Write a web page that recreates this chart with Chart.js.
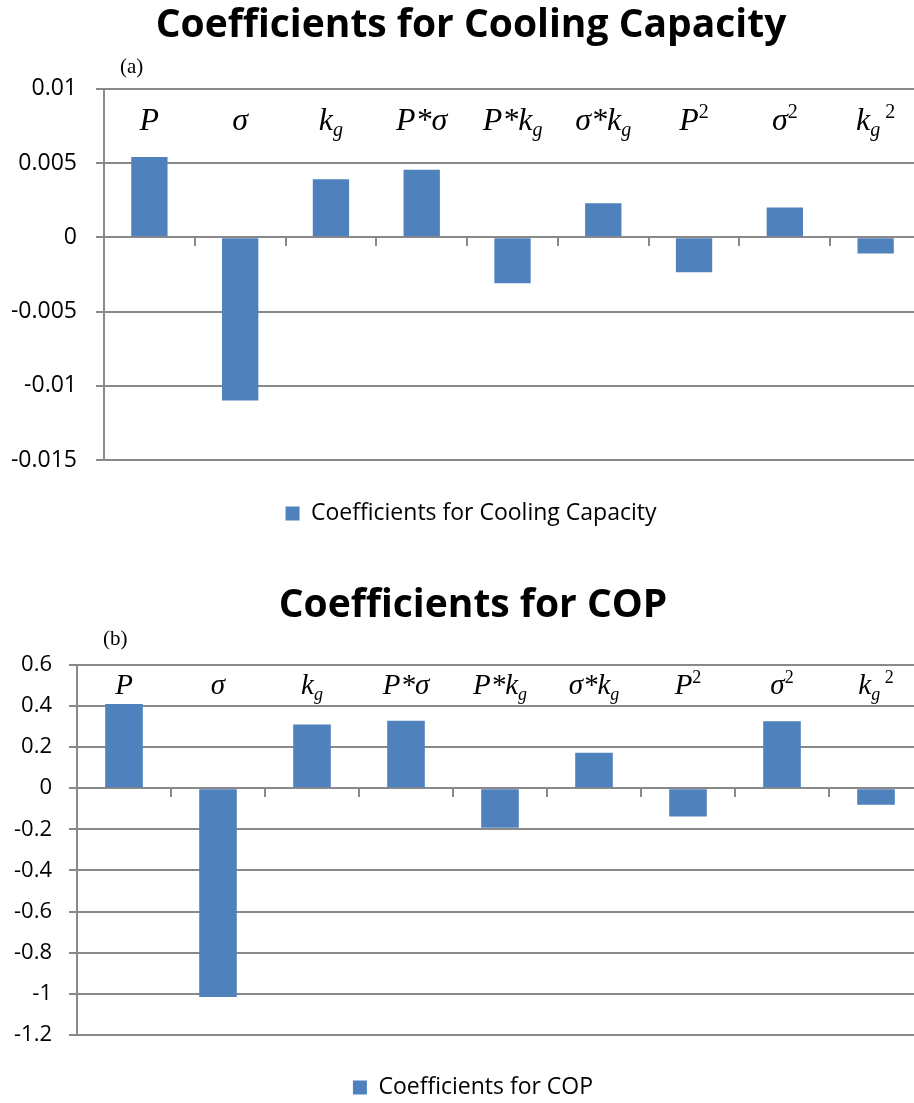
<!DOCTYPE html>
<html>
<head>
<meta charset="utf-8">
<script src="https://cdn.jsdelivr.net/npm/chart.js@4.4.1/dist/chart.umd.min.js"></script>
<style>
  html, body { margin: 0; padding: 0; background: #fff; }
  #page { width: 914px; height: 1103px; overflow: hidden; }
  canvas { display: block; }
</style>
</head>
<body>
<div id="page">
  <canvas id="chartCooling" width="980" height="552"></canvas>
  <canvas id="chartCop" width="980" height="560"></canvas>
</div>
<script>
// regression terms (plain text, used as the category labels)
const categories = ['P', 'σ', 'kg', 'P*σ', 'P*kg', 'σ*kg', 'P²', 'σ²', 'kg²'];
// same terms split in pieces so the sub/superscripts can be drawn
const categoryMarkup = [
  [['P']],
  [['σ']],
  [['k'], ['g', 'sub']],
  [['P*σ']],
  [['P*k'], ['g', 'sub']],
  [['σ*k'], ['g', 'sub']],
  [['P'], ['2', 'sup']],
  [['σ'], ['2', 'sup']],
  [['k'], ['g', 'sub'], [' 2', 'sup']]
];

const coolingCoef = [0.0054, -0.011, 0.0039, 0.00455, -0.0031, 0.0023, -0.00235, 0.002, -0.0011];
const copCoef = [0.41, -1.015, 0.31, 0.328, -0.192, 0.172, -0.137, 0.325, -0.08];

const coolingTicks = [-0.015, -0.01, -0.005, 0, 0.005, 0.01];
const copTicks = [-1.2, -1, -0.8, -0.6, -0.4, -0.2, 0, 0.2, 0.4, 0.6];

const GRID = '#898989';
const BAR = '#4f81bd';

// italic term labels inside the plot + the (a)/(b) tag
const termLabels = {
  id: 'termLabels',
  afterDatasetsDraw(chart, args, opts) {
    const {ctx, chartArea, scales: {x}} = chart;
    const size = opts.size;
    const base = chartArea.top + opts.offset;
    ctx.save();
    ctx.fillStyle = '#000';
    ctx.textBaseline = 'alphabetic';
    ctx.textAlign = 'left';
    categoryMarkup.forEach((parts, i) => {
      const pieces = parts.map(([t, kind]) => {
        const s = kind ? Math.round(size * 0.62) : size;
        const font = (kind === 'sup' ? '' : 'italic ') + s + 'px "Liberation Serif", "Times New Roman", serif';
        ctx.font = font;
        let dy = 0;
        if (kind === 'sub') dy = size * 0.2;
        if (kind === 'sup') dy = -size * 0.38;
        return {t, font, dy, w: ctx.measureText(t).width};
      });
      const total = pieces.reduce((s, p) => s + p.w, 0);
      let cx = x.getPixelForValue(i) - total / 2;
      pieces.forEach(p => {
        ctx.font = p.font;
        ctx.fillText(p.t, cx, base + p.dy);
        cx += p.w;
      });
    });
    ctx.font = opts.tagSize + 'px "Liberation Serif", "Times New Roman", serif';
    ctx.textBaseline = 'middle';
    ctx.fillText(opts.tag, chartArea.left + opts.tagDx, chartArea.top + opts.tagDy);
    ctx.restore();
  }
};

function makeChart(id, cfg) {
  const ticks = cfg.ticks;
  return new Chart(document.getElementById(id), {
    type: 'bar',
    data: {
      labels: categories,
      datasets: [{
        label: cfg.title,
        data: cfg.values,
        backgroundColor: BAR,
        barPercentage: 0.4,
        categoryPercentage: 1
      }]
    },
    options: {
      responsive: false,
      animation: false,
      layout: {padding: cfg.padding},
      scales: {
        x: {
          position: {y: 0},
          ticks: {display: false},
          grid: {drawOnChartArea: false, color: GRID, lineWidth: 2, tickLength: 8},
          border: {color: GRID, width: 2}
        },
        y: {
          min: ticks[0],
          max: ticks[ticks.length - 1],
          ticks: {
            stepSize: ticks[1] - ticks[0],
            padding: cfg.tickPad,
            color: '#000',
            font: {family: 'Open Sans', size: cfg.tickSize},
            callback: v => String(+v.toFixed(4))
          },
          grid: {color: GRID, lineWidth: 2, tickLength: 8},
          border: {color: GRID, width: 2},
          afterFit: s => { s.width = cfg.axisWidth; }
        },
        // empty strip on the right, keeps title and legend centred like the original
        yRight: {
          position: 'right',
          ticks: {display: false},
          grid: {display: false},
          border: {display: false},
          afterFit: s => { s.width = cfg.rightStrip; }
        }
      },
      plugins: {
        title: {
          display: true,
          text: cfg.title,
          color: '#000',
          font: {family: 'Open Sans', size: 39, weight: 'bold'},
          padding: cfg.titlePad
        },
        legend: {
          position: 'bottom',
          labels: {
            boxWidth: 14,
            boxHeight: 14,
            color: '#000',
            font: {family: 'Open Sans', size: 23},
            padding: cfg.legendPad
          }
        },
        tooltip: {enabled: false},
        termLabels: cfg.terms
      }
    },
    plugins: [termLabels]
  });
}

makeChart('chartCooling', {
  title: 'Coefficients for Cooling Capacity',
  values: coolingCoef,
  ticks: coolingTicks,
  padding: {left: 0, right: 980 - 942, top: 0, bottom: 17},
  axisWidth: 104,
  rightStrip: 21,
  tickPad: 19,
  tickSize: 23,
  titlePad: {top: 2, bottom: 40},
  legendPad: 42,
  terms: {size: 32, offset: 41, tag: '(a)', tagSize: 21, tagDx: 16, tagDy: -21}
});

makeChart('chartCop', {
  title: 'Coefficients for COP',
  values: copCoef,
  ticks: copTicks,
  padding: {left: 0, right: 980 - 946, top: 0, bottom: 3},
  axisWidth: 77,
  rightStrip: 23,
  tickPad: 17,
  tickSize: 22,
  titlePad: {top: 30, bottom: 36},
  legendPad: 41,
  terms: {size: 29, offset: 29, tag: '(b)', tagSize: 21, tagDx: 26, tagDy: -25}
});
</script>
</body>
</html>
